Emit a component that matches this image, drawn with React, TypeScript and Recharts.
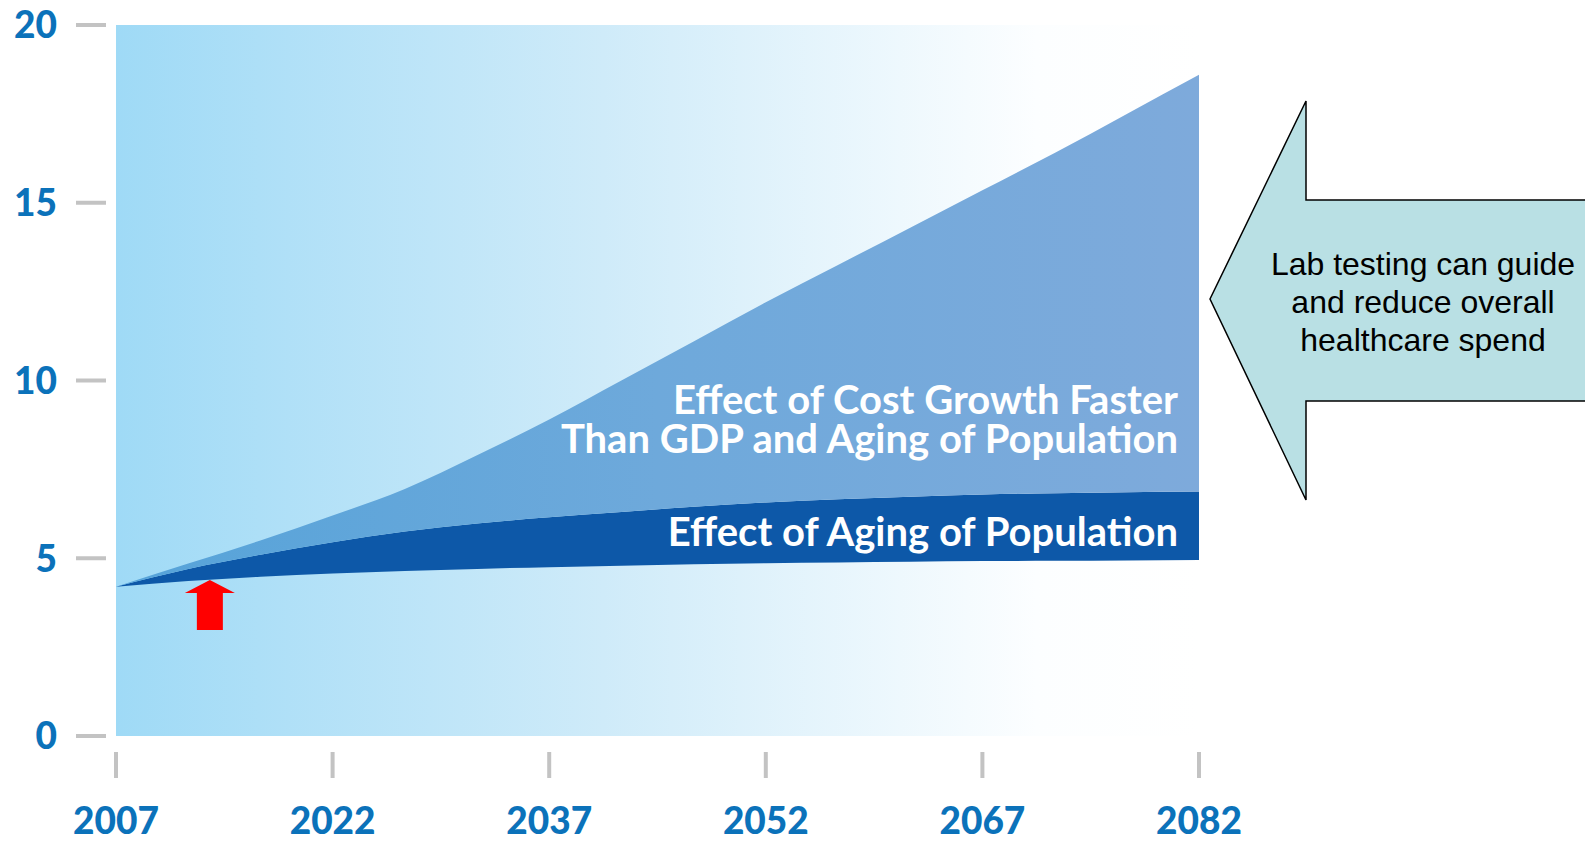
import React from "react"
import { AreaChart, Area, XAxis, YAxis, CartesianGrid, ReferenceDot } from "recharts"

// values, % of GDP
const years = [2007, 2012, 2017, 2022, 2027, 2032, 2037, 2042, 2047, 2052, 2057, 2062, 2067, 2072, 2077, 2082]
const baseline = [4.2, 4.36, 4.48, 4.57, 4.64, 4.7, 4.75, 4.79, 4.83, 4.86, 4.88, 4.9, 4.92, 4.93, 4.94, 4.95]
const agingTop = [4.2, 4.7, 5.1, 5.45, 5.75, 5.98, 6.15, 6.3, 6.45, 6.57, 6.66, 6.73, 6.79, 6.83, 6.86, 6.88]
const totalTop = [4.2, 4.85, 5.5, 6.2, 6.95, 7.9, 8.9, 10.0, 11.1, 12.2, 13.25, 14.3, 15.35, 16.4, 17.5, 18.6]

const xTicks = [2007, 2022, 2037, 2052, 2067, 2082]
const yTicks = [0, 5, 10, 15, 20]

const data = years.map((year, i) => ({
  year,
  base: baseline[i],
  aging: agingTop[i] - baseline[i],
  excess: totalTop[i] - agingTop[i],
}))

const BLUE = "#0b72ba"
const GREY = "#c3c3c3"
const labelFont = "Lato, 'Open Sans', sans-serif"

const YTick = ({ x, y, payload }: any) => (
  <g>
    <line x1={x - 40} x2={x - 10} y1={y} y2={y} stroke={GREY} strokeWidth={4} />
    <text x={x - 59} y={y} dy="0.36em" textAnchor="end" fill={BLUE}
      fontFamily={labelFont} fontWeight={900} fontSize={37}>
      {payload.value}
    </text>
  </g>
)

const XTick = ({ x, y, payload }: any) => (
  <g>
    <line x1={x} x2={x} y1={y + 16} y2={y + 42} stroke={GREY} strokeWidth={4} />
    <text x={x} y={y + 98} textAnchor="middle" fill={BLUE}
      fontFamily={labelFont} fontWeight={900} fontSize={37}>
      {payload.value}
    </text>
  </g>
)

const RedArrow = ({ cx, cy }: any) => (
  <polygon
    fill="#ff0000"
    points={`${cx},${cy} ${cx + 25},${cy + 13} ${cx + 13},${cy + 13} ${cx + 13},${cy + 50} ${cx - 13},${cy + 50} ${cx - 13},${cy + 13} ${cx - 25},${cy + 13}`}
  />
)

export default function App() {
  return (
    <div style={{ position: "absolute", left: 0, top: 0, width: 1585, height: 841, background: "#fff", overflow: "hidden" }}>
      <AreaChart width={1585} height={841} data={data} margin={{ top: 25, right: 386, bottom: 0, left: 0 }}>
        <defs>
          <linearGradient id="bgGrad" x1="0" y1="0" x2="1" y2="0">
            <stop offset="0" stopColor="#9fdaf6" />
            <stop offset="0.45" stopColor="#cfebf9" />
            <stop offset="0.85" stopColor="#fcfeff" />
            <stop offset="1" stopColor="#ffffff" />
          </linearGradient>
          <linearGradient id="midGrad" x1="0" y1="0" x2="1" y2="0">
            <stop offset="0" stopColor="#55a3d9" />
            <stop offset="0.5" stopColor="#6ea9db" />
            <stop offset="1" stopColor="#7eaadb" />
          </linearGradient>
        </defs>
        <CartesianGrid fill="url(#bgGrad)" horizontal={false} vertical={false} stroke="none" />
        <XAxis
          dataKey="year"
          type="number"
          domain={[2007, 2082]}
          ticks={xTicks}
          interval={0}
          height={105}
          tickSize={0}
          tickMargin={0}
          axisLine={false}
          tickLine={false}
          tick={<XTick />}
        />
        <YAxis
          domain={[0, 20]}
          ticks={yTicks}
          interval={0}
          width={116}
          tickSize={0}
          tickMargin={0}
          axisLine={false}
          tickLine={false}
          tick={<YTick />}
        />
        <Area type="monotone" dataKey="base" stackId="a" fill="none" stroke="none" isAnimationActive={false} />
        <Area type="monotone" dataKey="aging" stackId="a" fill="#0d58a8" fillOpacity={1} stroke="none" isAnimationActive={false} />
        <Area type="monotone" dataKey="excess" stackId="a" fill="url(#midGrad)" fillOpacity={1} stroke="none" isAnimationActive={false} />
        <ReferenceDot x={2013.5} y={4.39} shape={<RedArrow />} />
      </AreaChart>

      <svg width={1585} height={841} style={{ position: "absolute", left: 0, top: 0, pointerEvents: "none" }}>
        <g fill="#ffffff" fontFamily={labelFont} fontWeight={700} fontSize={40} textAnchor="end">
          <text x={1178} y={414}>Effect of Cost Growth Faster</text>
          <text x={1178} y={453}>Than GDP and Aging of Population</text>
          <text x={1178} y={546}>Effect of Aging of Population</text>
        </g>
        <polygon
          points="1210,299 1306,101 1306,200 1600,200 1600,401 1306,401 1306,500"
          fill="#b9e0e4"
          stroke="#000"
          strokeWidth={1.5}
        />
        <g fontFamily="'Liberation Sans', Arial, sans-serif" fontSize={32} fill="#000" textAnchor="middle">
          <text x={1423} y={275}>Lab testing can guide</text>
          <text x={1423} y={313}>and reduce overall</text>
          <text x={1423} y={351}>healthcare spend</text>
        </g>
      </svg>
    </div>
  )
}
